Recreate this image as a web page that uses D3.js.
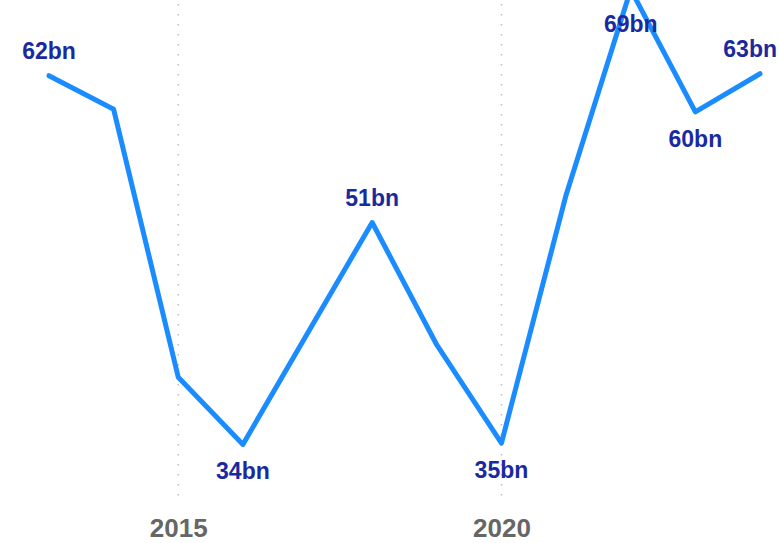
<!DOCTYPE html>
<html>
<head>
<meta charset="utf-8">
<script src="https://cdn.jsdelivr.net/npm/d3@7/dist/d3.min.js"></script>
<style>
html,body{margin:0;padding:0;background:#fff;}
svg{display:block;font-family:"Liberation Sans",Arial,sans-serif;}
</style>
</head>
<body>
<svg id="chart" width="779" height="543"></svg>
<script>
const years = [2013,2014,2015,2016,2017,2018,2019,2020,2021,2022,2023,2024];
const values = [62.45,59.9,39.55,34.45,42.9,51.3,42.0,34.55,53.4,69.0,59.7,62.6];
const labelYears = [2013,2016,2018,2020,2022,2023,2024];
const labelPos = ["above","below","above","below","above","below","above"];
const tickYears = [2015,2020];

const W = 779, H = 543;
const svg = d3.select("#chart");
const x = d3.scaleLinear().domain([2013,2024]).range([49,760]);
const y = d3.scaleLinear().domain([30,68.2]).range([503,0]);

// grid lines
svg.append("g").selectAll("line").data(tickYears).join("line")
  .attr("x1", d=>x(d)).attr("x2", d=>x(d))
  .attr("y1", 4).attr("y2", 503)
  .attr("stroke", "#bdbdbd").attr("stroke-width", 1.5)
  .attr("stroke-dasharray", "1.5,8.5");

// x axis
const xAxis = d3.axisBottom(x).tickValues(tickYears).tickFormat(d3.format("d")).tickSize(0).tickPadding(0);
const gx = svg.append("g").attr("transform", "translate(0,519)").call(xAxis);
gx.select(".domain").remove();
gx.selectAll("text").attr("fill","#666").attr("font-size","26px").attr("font-weight","bold")
  .attr("font-family","'Liberation Sans',Arial,sans-serif");

// line
const pts = years.map((yr,i)=>({yr, v: values[i]}));
svg.append("path").datum(pts)
  .attr("fill","none").attr("stroke","#1a8cff").attr("stroke-width",5)
  .attr("stroke-linejoin","round").attr("stroke-linecap","round")
  .attr("d", d3.line().x(d=>x(d.yr)).y(d=>y(d.v)));

// labels
const lab = svg.append("g");
labelYears.forEach((yr,i)=>{
  const v = values[years.indexOf(yr)];
  const px = x(yr), py = y(v);
  let ty = labelPos[i]==="above" ? py - 17 : py + 35;
  ty = Math.max(ty, 32);
  const t = lab.append("text")
    .attr("x", px).attr("y", ty)
    .attr("text-anchor","middle")
    .attr("fill","#1a2a9e").attr("font-size","23px").attr("font-weight","bold")
    .text(Math.round(v) + "bn");
  const bb = t.node().getBBox();
  if (bb.x + bb.width > W - 2) t.attr("x", px - (bb.x + bb.width - (W - 2)));
  if (bb.x < 2) t.attr("x", px + (2 - bb.x));
});
</script>
</body>
</html>
